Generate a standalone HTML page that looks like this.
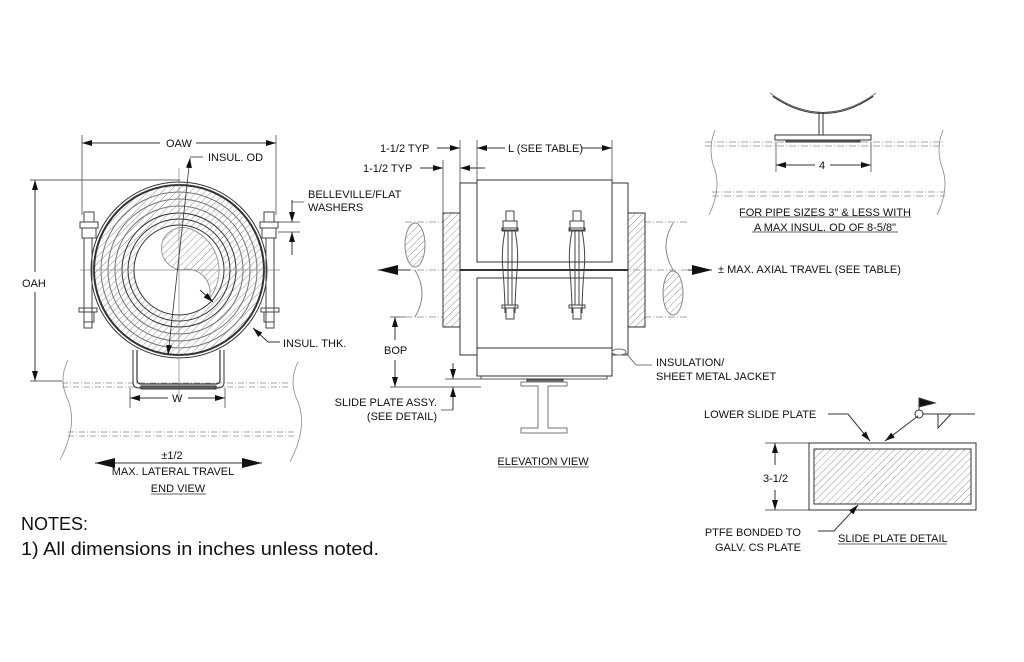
<!DOCTYPE html>
<html><head><meta charset="utf-8"><style>
html,body{margin:0;padding:0;background:#fff}
svg{display:block}
text{font-family:"Liberation Sans",sans-serif;font-size:11px;fill:#111}
</style></head><body>
<svg width="1024" height="662" viewBox="0 0 1024 662" xmlns="http://www.w3.org/2000/svg">
<defs>
<pattern id="h" width="5" height="5" patternUnits="userSpaceOnUse" patternTransform="rotate(45)">
<line x1="0" y1="0" x2="0" y2="5" stroke="#888" stroke-width="0.9"/></pattern>
<marker id="a" viewBox="0 0 10 6" refX="10" refY="3" markerWidth="10" markerHeight="6" orient="auto-start-reverse" markerUnits="userSpaceOnUse"><path d="M0,0L10,3L0,6z" fill="#111"/></marker>
<marker id="b" viewBox="0 0 20 10" refX="20" refY="5" markerWidth="22" markerHeight="10" orient="auto-start-reverse" markerUnits="userSpaceOnUse"><path d="M0,0L20,5L0,10z" fill="#111"/></marker>
<clipPath id="ring"><path d="M179,270m-85,0a85,85 0 1,0 170,0a85,85 0 1,0 -170,0z M179,270m-45,0a45,45 0 1,1 90,0a45,45 0 1,1 -90,0z" clip-rule="evenodd"/></clipPath>
</defs>
<g fill="none" stroke="#333" stroke-width="1">
<g stroke="#888" stroke-dasharray="6,2,1,2" stroke-width="0.8">
<line x1="62" y1="383" x2="290" y2="383"/><line x1="62" y1="387" x2="290" y2="387"/>
<line x1="68" y1="432" x2="295" y2="432"/><line x1="68" y1="436" x2="295" y2="436"/>
</g>
<path d="M68,360 q-10,20 0,40 q10,25 -8,60" stroke="#888" stroke-width="0.8"/>
<path d="M298,362 q-10,20 0,40 q10,25 -8,60" stroke="#888" stroke-width="0.8"/>
<g clip-path="url(#ring)"><rect x="90" y="180" width="180" height="180" fill="url(#h)" stroke="none"/></g>
<circle cx="179" cy="270" r="88"/>
<circle cx="179" cy="270" r="85" stroke-width="2"/>
<circle cx="179" cy="270" r="78" stroke="#777"/>
<circle cx="179" cy="270" r="71" stroke="#777"/>
<circle cx="179" cy="270" r="64" stroke="#777"/>
<circle cx="179" cy="270" r="57"/>
<circle cx="179" cy="270" r="51"/>
<circle cx="179" cy="270" r="45"/>
<path d="M163,240 a22,22 0 0,1 28,-11 a45,45 0 0,1 18,70 a23,23 0 0,0 -28,-29 a22,22 0 0,1 -18,-30z" fill="url(#h)" stroke="#999"/>
<line x1="80" y1="270" x2="280" y2="270" stroke="#888" stroke-width="0.7"/>
<line x1="179" y1="168" x2="179" y2="400" stroke="#888" stroke-width="0.7"/>
<line x1="190" y1="158" x2="168" y2="355" marker-start="url(#a)" marker-end="url(#a)" stroke-width="0.8"/>
<line x1="190" y1="157" x2="203" y2="157" stroke-width="0.8"/>
<line x1="200" y1="290" x2="213" y2="302" marker-end="url(#a)"/>
<g stroke="#444">
<rect x="84" y="212" width="10" height="10"/><rect x="80" y="222" width="18" height="6"/><rect x="82" y="228" width="14" height="10"/>
<rect x="84" y="238" width="8" height="90"/><rect x="79" y="308" width="18" height="4"/><rect x="84" y="312" width="10" height="10"/>
<rect x="264" y="212" width="10" height="10"/><rect x="260" y="222" width="18" height="6"/><rect x="262" y="228" width="14" height="10"/>
<rect x="266" y="238" width="8" height="90"/><rect x="261" y="308" width="18" height="4"/><rect x="264" y="312" width="10" height="10"/>
</g>
<path d="M137,350 v30 q0,4 4,4 h75 q4,0 4,-4 v-30" stroke-width="1.2"/>
<path d="M133,350 v32 q0,6 6,6 h79 q6,0 6,-6 v-32"/>
<rect x="141" y="386" width="75" height="3" fill="#666"/>
<line x1="82" y1="135" x2="82" y2="215" stroke-width="0.7"/><line x1="276" y1="135" x2="276" y2="215" stroke-width="0.7"/>
<line x1="82" y1="143" x2="160" y2="143" marker-start="url(#a)"/><line x1="196" y1="143" x2="276" y2="143" marker-end="url(#a)"/>
<line x1="30" y1="180" x2="180" y2="180" stroke-width="0.7"/><line x1="30" y1="381" x2="62" y2="381" stroke-width="0.7"/>
<line x1="35" y1="180" x2="35" y2="272" marker-start="url(#a)"/><line x1="35" y1="292" x2="35" y2="381" marker-end="url(#a)"/>
<line x1="292" y1="200" x2="292" y2="222" marker-end="url(#a)"/><line x1="292" y1="232" x2="292" y2="255" marker-start="url(#a)"/>
<line x1="292" y1="202" x2="304" y2="202" stroke-width="0.7"/>
<line x1="278" y1="222" x2="300" y2="222" stroke-width="0.7"/><line x1="278" y1="232" x2="300" y2="232" stroke-width="0.7"/>
<line x1="130" y1="388" x2="130" y2="408" stroke-width="0.7"/><line x1="225" y1="388" x2="225" y2="408" stroke-width="0.7"/>
<line x1="130" y1="398" x2="168" y2="398" marker-start="url(#a)"/><line x1="188" y1="398" x2="225" y2="398" marker-end="url(#a)"/>
<line x1="95" y1="463" x2="262" y2="463" marker-start="url(#b)" marker-end="url(#b)"/>
<path d="M253,328 l15,14 h12" marker-start="url(#a)"/>
<g stroke="#888" stroke-dasharray="7,2,1,2" stroke-width="0.8">
<path d="M405,222 H443 M405,317 H443 M644,222 H688 M644,317 H688"/>
<line x1="405" y1="270" x2="688" y2="270"/>
</g>
<ellipse cx="415" cy="245" rx="10" ry="22" stroke="#888" fill="url(#h)"/>
<path d="M415,270 q14,24 0,47" stroke="#888"/>
<ellipse cx="673" cy="293" rx="10" ry="22" stroke="#888" fill="url(#h)"/>
<path d="M673,270 q-14,-24 0,-47" stroke="#888"/>
<rect x="443" y="213" width="17" height="114" fill="url(#h)"/>
<rect x="628" y="213" width="17" height="114" fill="url(#h)"/>
<rect x="460" y="183" width="168" height="172"/>
<rect x="477" y="180" width="135" height="82" fill="#fff"/>
<rect x="477" y="278" width="135" height="70" fill="#fff"/>
<rect x="477" y="348" width="135" height="28" fill="#fff"/>
<line x1="460" y1="270" x2="628" y2="270" stroke-width="2"/>
<rect x="481" y="376" width="126" height="3" stroke-width="0.8"/>
<rect x="527" y="379" width="36" height="3" fill="#666"/>
<path d="M521,382 h46 v4 h-19 v42 h19 v5 h-46 v-5 h17 v-42 h-17z" stroke="#777"/>
<ellipse cx="619" cy="352" rx="7" ry="3" stroke="#777"/>
<path d="M626,353 l10,12 h16" stroke="#777"/>
<g stroke="#444">
<rect x="506" y="211" width="8" height="10"/><rect x="503" y="221" width="14" height="9"/><rect x="502" y="228" width="16" height="3"/>
<path d="M505,231 q-4,20 -2,40 q2,25 2,42 M515,231 q4,20 2,40 q-2,25 -2,42"/><rect x="502" y="305" width="16" height="3"/><rect x="506" y="308" width="8" height="11"/>
<line x1="508" y1="231" x2="508" y2="305"/><line x1="512" y1="231" x2="512" y2="305"/>
<rect x="573" y="211" width="8" height="10"/><rect x="570" y="221" width="14" height="9"/><rect x="569" y="228" width="16" height="3"/>
<path d="M572,231 q-4,20 -2,40 q2,25 2,42 M582,231 q4,20 2,40 q-2,25 -2,42"/><rect x="569" y="305" width="16" height="3"/><rect x="573" y="308" width="8" height="11"/>
<line x1="575" y1="231" x2="575" y2="305"/><line x1="579" y1="231" x2="579" y2="305"/>
</g>
<line x1="378" y1="270" x2="410" y2="270" marker-start="url(#b)"/>
<line x1="688" y1="270" x2="712" y2="270" marker-end="url(#b)"/>
<line x1="460" y1="140" x2="460" y2="183" stroke-width="0.7"/><line x1="477" y1="140" x2="477" y2="180" stroke-width="0.7"/>
<line x1="612" y1="140" x2="612" y2="180" stroke-width="0.7"/><line x1="443" y1="160" x2="443" y2="213" stroke-width="0.7"/>
<line x1="437" y1="148" x2="460" y2="148" marker-end="url(#a)"/>
<line x1="477" y1="148" x2="505" y2="148" marker-start="url(#a)"/><line x1="582" y1="148" x2="612" y2="148" marker-end="url(#a)"/>
<line x1="420" y1="168" x2="443" y2="168" marker-end="url(#a)"/><line x1="460" y1="168" x2="485" y2="168" marker-start="url(#a)"/>
<line x1="390" y1="317" x2="405" y2="317" stroke-width="0.7"/><line x1="390" y1="387" x2="481" y2="387" stroke-width="0.7"/>
<line x1="395" y1="317" x2="395" y2="340" marker-start="url(#a)"/><line x1="395" y1="360" x2="395" y2="387" marker-end="url(#a)"/>
<line x1="453" y1="363" x2="453" y2="379" marker-end="url(#a)"/><line x1="453" y1="387" x2="453" y2="410" marker-start="url(#a)"/>
<line x1="445" y1="379" x2="481" y2="379" stroke-width="0.7"/>
<line x1="441" y1="410" x2="453" y2="410" stroke-width="0.7"/>
<g stroke="#888" stroke-dasharray="7,2,1,2" stroke-width="0.8">
<path d="M705,142 H945 M705,146 H945 M712,192 H945 M712,196 H945"/></g>
<path d="M715,130 q-8,20 0,40 q6,20 -6,45" stroke="#888" stroke-width="0.8"/>
<path d="M943,130 q-8,20 0,40 q6,20 -6,45" stroke="#888" stroke-width="0.8"/>
<path d="M773,96 q50,34 100,0" stroke-width="2"/>
<path d="M770,93 q53,40 106,0" stroke="#777"/>
<path d="M819,112 v23 M823,112 v23"/>
<rect x="775" y="135" width="96" height="5"/>
<rect x="786" y="140" width="74" height="2" fill="#666"/>
<line x1="776" y1="142" x2="776" y2="172" stroke-width="0.7"/><line x1="871" y1="142" x2="871" y2="172" stroke-width="0.7"/>
<line x1="776" y1="165" x2="815" y2="165" marker-start="url(#a)"/><line x1="830" y1="165" x2="871" y2="165" marker-end="url(#a)"/>
<rect x="809" y="443" width="167" height="67"/>
<rect x="814" y="449" width="157" height="55" fill="url(#h)"/>
<line x1="765" y1="443" x2="809" y2="443" stroke-width="0.7"/><line x1="765" y1="510" x2="809" y2="510" stroke-width="0.7"/>
<line x1="775" y1="443" x2="775" y2="465" marker-start="url(#a)"/><line x1="775" y1="490" x2="775" y2="510" marker-end="url(#a)"/>
<path d="M828,414 h20 l22,27" marker-end="url(#a)"/>
<path d="M918,416 l-33,25" marker-end="url(#a)"/>
<circle cx="919" cy="414" r="4"/>
<line x1="923" y1="414" x2="975" y2="414"/>
<path d="M938,414 v14 l13,-14" />
<line x1="919" y1="410" x2="919" y2="398"/>
<path d="M919,398 l16,5 l-16,4z" fill="#111"/>
<path d="M818,531 h16 l24,-26" marker-end="url(#a)"/>
</g>
<g stroke="#333" stroke-width="0.8">
<line x1="151" y1="494" x2="206" y2="494"/>
<line x1="498" y1="467" x2="589" y2="467"/>
<line x1="740" y1="217" x2="911" y2="217"/>
<line x1="752" y1="232" x2="898" y2="232"/>
<line x1="838" y1="544" x2="947" y2="544"/>
</g>
<text x="166" y="147">OAW</text>
<text x="208" y="161">INSUL. OD</text>
<text x="308" y="198">BELLEVILLE/FLAT</text>
<text x="308" y="211">WASHERS</text>
<text x="22" y="287">OAH</text>
<text x="283" y="347">INSUL. THK.</text>
<text x="172" y="402">W</text>
<text x="172" y="459" text-anchor="middle">±1/2</text>
<text x="173" y="475" text-anchor="middle">MAX. LATERAL TRAVEL</text>
<text x="178" y="492" text-anchor="middle">END VIEW</text>
<text x="380" y="152">1-1/2 TYP</text>
<text x="363" y="172">1-1/2 TYP</text>
<text x="508" y="152">L (SEE TABLE)</text>
<text x="384" y="354">BOP</text>
<text x="437" y="406" text-anchor="end">SLIDE PLATE ASSY.</text>
<text x="437" y="420" text-anchor="end">(SEE DETAIL)</text>
<text x="543" y="465" text-anchor="middle">ELEVATION VIEW</text>
<text x="656" y="366">INSULATION/</text>
<text x="656" y="380">SHEET METAL JACKET</text>
<text x="718" y="273">± MAX. AXIAL TRAVEL (SEE TABLE)</text>
<text x="819" y="169">4</text>
<text x="825" y="216" text-anchor="middle">FOR PIPE SIZES 3" &amp; LESS WITH</text>
<text x="825" y="231" text-anchor="middle">A MAX INSUL. OD OF 8-5/8"</text>
<text x="704" y="418">LOWER SLIDE PLATE</text>
<text x="763" y="482">3-1/2</text>
<text x="801" y="536" text-anchor="end">PTFE BONDED TO</text>
<text x="801" y="551" text-anchor="end">GALV. CS PLATE</text>
<text x="838" y="542">SLIDE PLATE DETAIL</text>
<text x="21" y="530" style="font-size:18px">NOTES:</text>
<text x="21" y="555" style="font-size:18px" textLength="358" lengthAdjust="spacingAndGlyphs">1) All dimensions in inches unless noted.</text>
</svg>
</body></html>
